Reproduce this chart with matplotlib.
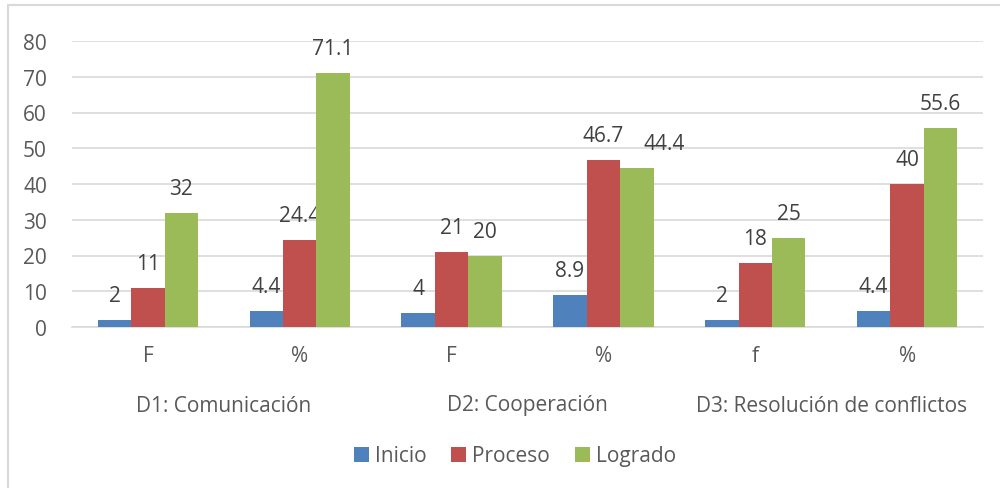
import numpy as np
import matplotlib.pyplot as plt
from matplotlib.patches import Rectangle

# Data
categories = ['F', '%', 'F', '%', 'f', '%']
groups = ['D1: Comunicación', 'D2: Cooperación', 'D3: Resolución de conflictos']
inicio = [2, 4.4, 4, 8.9, 2, 4.4]
proceso = [11, 24.4, 21, 46.7, 18, 40]
logrado = [32, 71.1, 20, 44.4, 25, 55.6]
series_names = ['Inicio', 'Proceso', 'Logrado']
colors = ['#4F81BD', '#C0504D', '#9BBB59']

plt.rcParams['font.family'] = ['Open Sans', 'DejaVu Sans']
text_color = '#595959'
fs = 15

fig = plt.figure(figsize=(10, 4.89), dpi=100)
ax = fig.add_axes([0.072, 1 - 328 / 489, 0.911, 286 / 489])

# label nudges (series index, category index) -> x offset in points, like Excel did
nudge = {(2, 3): 20}

x = np.arange(len(categories))
w = 0.22
for i, (vals, name, c) in enumerate(zip([inicio, proceso, logrado], series_names, colors)):
    bars = ax.bar(x + (i - 1) * w, vals, w, color=c, label=name, zorder=3)
    for j, (b, v) in enumerate(zip(bars, vals)):
        ax.annotate(f'{v:g}', (b.get_x() + b.get_width() / 2, v),
                    xytext=(nudge.get((i, j), 0), 10),
                    textcoords='offset points', ha='center', va='bottom',
                    fontsize=fs, color='#404040')

ax.set_xlim(-0.5, len(categories) - 0.5)
ax.set_ylim(0, 80)
ax.set_yticks(range(0, 81, 10))
ax.yaxis.grid(True, color='#D9D9D9', linewidth=1.2, zorder=0)
ax.tick_params(axis='y', length=0, labelsize=fs, labelcolor=text_color, pad=18)
ax.tick_params(axis='x', length=0, labelsize=fs, labelcolor=text_color, pad=13)
ax.set_xticks(x)
ax.set_xticklabels(categories)
for s in ['top', 'right', 'left']:
    ax.spines[s].set_visible(False)
ax.spines['bottom'].set_color('#D9D9D9')
ax.spines['bottom'].set_linewidth(1.2)

# group labels under each pair of categories
for g, name in enumerate(groups):
    fig.text(0.072 + 0.911 * (2 * g + 1) / 6, 1 - 406 / 489, name, ha='center', va='center',
             fontsize=fs, color=text_color)

leg = fig.legend(loc='center', bbox_to_anchor=(0.515, 1 - 457 / 489), ncol=3, frameon=False,
                 fontsize=fs, handlelength=0.7, handleheight=0.7, handletextpad=0.3,
                 columnspacing=1.2)
for t in leg.get_texts():
    t.set_color(text_color)

# outer border
fig.patches.append(Rectangle((0.008, -0.1), 1.1, 1 - 0.013 + 0.1, transform=fig.transFigure,
                             fill=False, edgecolor='#D9D9D9', linewidth=1.5))

fig.savefig('out.png', dpi=100)
